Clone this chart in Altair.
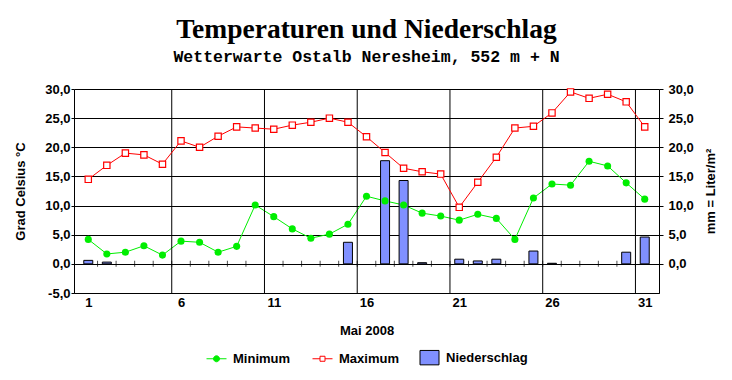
import altair as alt
import pandas as pd

# ---- data ----
days = list(range(1, 32))
t_min = [4.2, 1.7, 2.0, 3.1, 1.5, 3.9, 3.7, 2.0, 3.0, 10.1,
         8.1, 6.0, 4.4, 5.1, 6.8, 11.6, 10.8, 10.1, 8.7, 8.2,
         7.5, 8.5, 7.8, 4.2, 11.3, 13.7, 13.5, 17.6, 16.8, 13.9, 11.1]
t_max = [14.5, 16.9, 19.0, 18.7, 17.1, 21.1, 20.0, 21.9, 23.5, 23.3,
         23.1, 23.8, 24.3, 25.0, 24.3, 21.8, 19.1, 16.4, 15.8, 15.4,
         9.7, 14.0, 18.3, 23.3, 23.6, 25.9, 29.5, 28.4, 29.1, 27.8, 23.5]
precip = [0.6, 0.3, 0, 0, 0, 0, 0, 0, 0, 0,
          0, 0, 0, 0, 3.7, 0, 17.7, 14.3, 0.2, 0,
          0.8, 0.5, 0.8, 0, 2.2, 0.1, 0, 0, 0, 2.0, 4.6]
x_labels = [1, 6, 11, 16, 21, 26, 31]
y_left_ticks = [-5, 0, 5, 10, 15, 20, 25, 30]
y_right_ticks = [0, 5, 10, 15, 20, 25, 30]
series_names = ["Minimum", "Maximum", "Niederschlag"]
series_colors = ["#00ee00", "#ff0000", "#8090ff"]

temps = pd.DataFrame({
    "day": days * 2,
    "series": ["Minimum"] * len(days) + ["Maximum"] * len(days),
    "value": t_min + t_max,
})
rain = pd.DataFrame({"day": days, "value": precip})
rain = rain[rain["value"] > 0]
day_bounds = pd.DataFrame({"day": [d + 0.5 for d in days[:-1]]})
grid_bounds = pd.DataFrame({"day": [d - 0.5 for d in x_labels[1:]]})
legend_df = pd.DataFrame({"series": series_names, "day": x_labels[:3]})

FONT = "Liberation Sans"
xscale = alt.Scale(domain=[days[0] - 0.5, days[-1] + 0.5], nice=False, zero=False)
yscale = alt.Scale(domain=[y_left_ticks[0], y_left_ticks[-1]], nice=False, zero=False)
label_expr = "replace(replace(format(datum.value, '.1f'), '.', ','), '\u2212', '-')"

common_axis = dict(labelFont=FONT, labelFontSize=13, labelFontWeight="bold",
                   labelColor="black", titleFont=FONT, titleFontSize=13,
                   titleFontWeight="bold", titleColor="black",
                   domainColor="black", tickColor="black")

x_axis = alt.Axis(values=x_labels, format="d", grid=False, ticks=False,
                  labelPadding=3, title="Mai 2008", titlePadding=15,
                  **common_axis)
x_enc = alt.X("day:Q", scale=xscale, axis=x_axis)

left_axis = alt.Axis(orient="left", values=y_left_ticks, labelExpr=label_expr,
                     grid=True, gridColor="black", gridWidth=1, gridOpacity=1,
                     tickSize=3, labelPadding=1, title="Grad Celsius °C",
                     titlePadding=17, **common_axis)
right_axis = alt.Axis(orient="right", values=y_right_ticks, labelExpr=label_expr,
                      grid=False, tickSize=4, labelPadding=5,
                      title="mm = Liter/m²", titleAngle=270, titlePadding=24,
                      **common_axis)

vgrid = alt.Chart(grid_bounds).mark_rule(color="black", strokeWidth=1).encode(
    x=x_enc,
    y=alt.Y(datum=y_left_ticks[0], scale=yscale, axis=None),
    y2=alt.Y2(datum=y_left_ticks[-1]),
)

zero_ticks = alt.Chart(day_bounds).mark_tick(
    orient="vertical", color="black", size=6, thickness=1
).encode(
    x=x_enc,
    y=alt.Y(datum=0, scale=yscale, axis=None),
)

bars = alt.Chart(rain).mark_bar(
    size=9, fill=series_colors[2], stroke="black", strokeWidth=1
).encode(
    x=x_enc,
    y=alt.Y("value:Q", scale=yscale, axis=right_axis),
)

line_min = alt.Chart(temps).transform_filter(
    alt.datum.series == "Minimum"
).mark_line(strokeWidth=1, color=series_colors[0]).encode(
    x=x_enc,
    y=alt.Y("value:Q", scale=yscale, axis=left_axis),
)
line_max = alt.Chart(temps).transform_filter(
    alt.datum.series == "Maximum"
).mark_line(strokeWidth=1, color=series_colors[1]).encode(
    x=x_enc,
    y=alt.Y("value:Q", scale=yscale, axis=None),
)

min_pts = alt.Chart(temps).transform_filter(
    alt.datum.series == "Minimum"
).mark_point(shape="circle", filled=True, size=50, color=series_colors[0], opacity=1).encode(
    x=x_enc,
    y=alt.Y("value:Q", scale=yscale, axis=None),
)
max_pts = alt.Chart(temps).transform_filter(
    alt.datum.series == "Maximum"
).mark_point(shape="square", filled=True, size=40, fill="white",
             stroke=series_colors[1], strokeWidth=1.2, opacity=1).encode(
    x=x_enc,
    y=alt.Y("value:Q", scale=yscale, axis=None),
)

# legend carrier: no visible marks, only the legend
legend_shapes = [
    "M-1,0H1M-0.3,0A0.3,0.3 0 1,1 0.3,0A0.3,0.3 0 1,1 -0.3,0Z",
    "M-1,0H-0.25M0.25,0H1M-0.25,-0.25H0.25V0.25H-0.25Z",
    "M-0.95,-0.72H0.95V0.72H-0.95Z",
]
legend_fills = [series_colors[0], "white", series_colors[2]]
legend_strokes = [series_colors[0], series_colors[1], "black"]
legend = alt.Legend(
    title=None, orient="none", direction="horizontal",
    legendX=132, legendY=258,
    labelFont=FONT, labelFontSize=13, labelFontWeight="bold", labelColor="black",
    labelOffset=6, columnPadding=19, symbolSize=400, symbolStrokeWidth=1,
    symbolOpacity=1,
)
legend_layer = alt.Chart(legend_df).transform_filter("false").mark_point(
    opacity=1, strokeWidth=1
).encode(
    x=x_enc,
    y=alt.Y(datum=0, scale=yscale, axis=None),
    shape=alt.Shape("series:N", scale=alt.Scale(domain=series_names, range=legend_shapes), legend=legend),
    fill=alt.Fill("series:N", scale=alt.Scale(domain=series_names, range=legend_fills), legend=legend),
    stroke=alt.Stroke("series:N", scale=alt.Scale(domain=series_names, range=legend_strokes), legend=legend),
)

chart = alt.layer(line_min, bars, vgrid, zero_ticks, line_max, min_pts, max_pts,
                  legend_layer).resolve_axis(
    y="independent"
).properties(
    width=585, height=204,
    autosize=alt.AutoSizeParams(type="none"),
    padding={"left": 66, "top": 81, "right": 65, "bottom": 79},
    title=alt.TitleParams(
        text="Temperaturen und Niederschlag",
        subtitle="Wetterwarte Ostalb Neresheim, 552 m + N",
        font="Liberation Serif", fontSize=27.5, fontWeight="bold", color="black",
        subtitleFont="Liberation Mono", subtitleFontSize=16.5,
        subtitleFontWeight="bold", subtitleColor="black",
        subtitlePadding=5, anchor="middle", offset=18,
    ),
).configure_view(stroke=None).configure(background="white")

chart.save("out.html", embed_options={"renderer": "svg", "actions": False})
